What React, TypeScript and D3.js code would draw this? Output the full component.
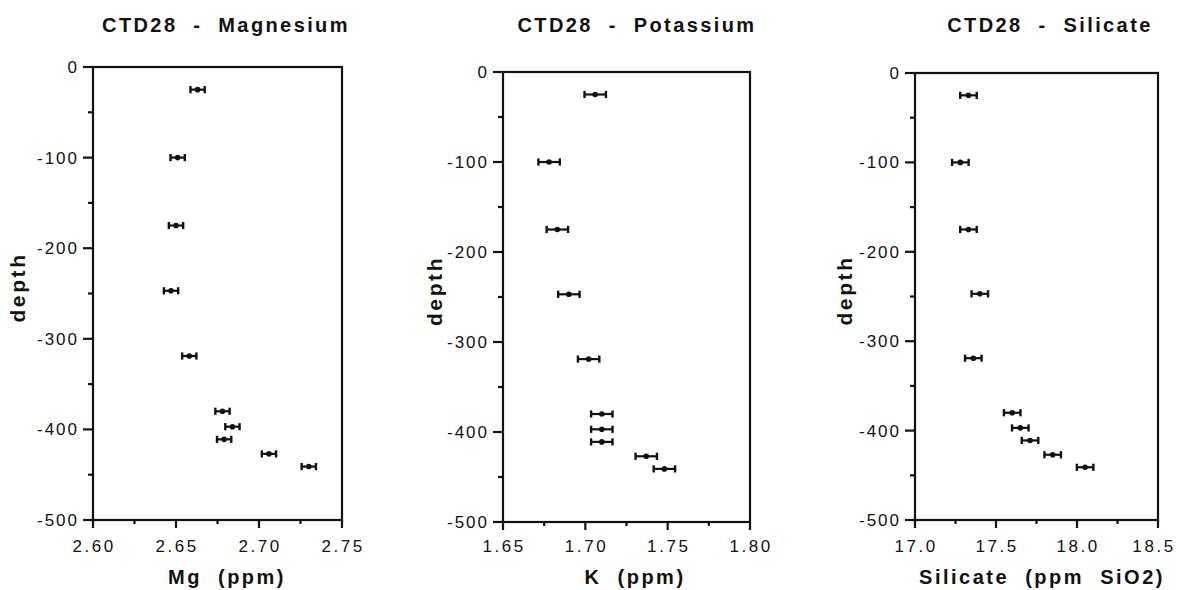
import React from "react";
import * as d3 from "d3";

const depths = [-25, -100, -175, -247, -319, -380, -397, -411, -427, -441];
const mgValues = [2.663, 2.651, 2.65, 2.647, 2.658, 2.678, 2.684, 2.679, 2.706, 2.73];
const kValues = [1.706, 1.678, 1.683, 1.69, 1.702, 1.71, 1.71, 1.71, 1.737, 1.748];
const siValues = [17.33, 17.28, 17.33, 17.4, 17.36, 17.6, 17.65, 17.71, 17.85, 18.05];
const mgErr = 0.0043;
const kErr = 0.0065;
const siErr = 0.051;

const mgTicks = [2.6, 2.65, 2.7, 2.75];
const kTicks = [1.65, 1.7, 1.75, 1.8];
const siTicks = [17.0, 17.5, 18.0, 18.5];
const depthTicks = [0, -100, -200, -300, -400, -500];
const depthMinor = [-50, -150, -250, -350, -450];

const titles = ["CTD28  -  Magnesium", "CTD28  -  Potassium", "CTD28  -  Silicate"];
const xLabels = ["Mg  (ppm)", "K  (ppm)", "Silicate  (ppm  SiO2)"];

type Panel = {
  values: number[];
  err: number;
  ticks: number[];
  fmt: string;
  title: string;
  xLabel: string;
  frame: { l: number; r: number; t: number; b: number };
  titleX: number;
  xLabelX: number;
  depthX: number;
};

const panels: Panel[] = [
  { values: mgValues, err: mgErr, ticks: mgTicks, fmt: ".2f", title: titles[0], xLabel: xLabels[0],
    frame: { l: 93, r: 342, t: 67, b: 520 }, titleX: 226, xLabelX: 227, depthX: 18 },
  { values: kValues, err: kErr, ticks: kTicks, fmt: ".2f", title: titles[1], xLabel: xLabels[1],
    frame: { l: 503, r: 750, t: 72, b: 522 }, titleX: 637, xLabelX: 635, depthX: 435 },
  { values: siValues, err: siErr, ticks: siTicks, fmt: ".1f", title: titles[2], xLabel: xLabels[2],
    frame: { l: 915, r: 1158, t: 73, b: 520 }, titleX: 1050, xLabelX: 1042, depthX: 845 },
];

const FONT = "'Liberation Sans', Arial, Helvetica, sans-serif";
const INK = "#111";
const W = 1180;

function PanelView({ p }: { p: Panel }) {
  const { l, r, t, b } = p.frame;
  const x = d3.scaleLinear().domain([p.ticks[0], p.ticks[p.ticks.length - 1]]).range([l, r]);
  const y = d3.scaleLinear().domain([0, -500]).range([t, b]);
  const f = d3.format(p.fmt);
  const minorX = p.ticks.slice(0, -1).map((v, i) => (v + p.ticks[i + 1]) / 2);
  const cap = 3.6;
  const tickFs = 17;
  const tickLs = 2.6;
  return (
    <g>
      <text x={p.titleX} y={32} textAnchor="middle" fontFamily={FONT} fontWeight="bold" fontSize={20}
        letterSpacing={2.4} fill={INK} style={{ whiteSpace: "pre" }}>{p.title}</text>
      <rect x={l} y={t} width={r - l} height={b - t} fill="none" stroke={INK} strokeWidth={2.2} />
      {depthTicks.map((d) => (
        <g key={"yt" + d}>
          <line x1={l - 10} x2={l} y1={y(d)} y2={y(d)} stroke={INK} strokeWidth={2.2} />
          <text x={l - 14} y={y(d)} dy="0.35em" textAnchor="end" fontFamily={FONT} fontSize={17}
            letterSpacing={2} fill={INK}>{d}</text>
        </g>
      ))}
      {depthMinor.map((d) => (
        <line key={"ym" + d} x1={l - 5} x2={l} y1={y(d)} y2={y(d)} stroke={INK} strokeWidth={2.2} />
      ))}
      {p.ticks.map((v) => {
        const label = f(v);
        const estW = label.length * (tickFs * 0.52 + tickLs);
        const cx = Math.min(x(v) + 1.2, W - 3 - estW / 2);
        return (
          <g key={"xt" + v}>
            <line x1={x(v)} x2={x(v)} y1={b} y2={b + 8} stroke={INK} strokeWidth={2.2} />
            <text x={cx} y={552} textAnchor="middle" fontFamily={FONT} fontSize={tickFs}
              letterSpacing={tickLs} fill={INK}>{label}</text>
          </g>
        );
      })}
      {minorX.map((v) => (
        <line key={"xm" + v} x1={x(v)} x2={x(v)} y1={b} y2={b + 4} stroke={INK} strokeWidth={2.2} />
      ))}
      <text x={p.xLabelX} y={584} textAnchor="middle" fontFamily={FONT} fontWeight="bold" fontSize={20}
        letterSpacing={2.5} fill={INK} style={{ whiteSpace: "pre" }}>{p.xLabel}</text>
      <text transform={`translate(${p.depthX},${(t + b) / 2 - 6}) rotate(-90)`} dy="0.35em" textAnchor="middle"
        fontFamily={FONT} fontWeight="bold" fontSize={21} letterSpacing={2.6} fill={INK}>depth</text>
      {p.values.map((v, i) => {
        const cy = y(depths[i]);
        const x0 = x(v - p.err);
        const x1 = x(v + p.err);
        return (
          <g key={"pt" + i}>
            <line x1={x0} x2={x1} y1={cy} y2={cy} stroke={INK} strokeWidth={2.2} />
            <line x1={x0} x2={x0} y1={cy - cap} y2={cy + cap} stroke={INK} strokeWidth={2.4} />
            <line x1={x1} x2={x1} y1={cy - cap} y2={cy + cap} stroke={INK} strokeWidth={2.4} />
            <circle cx={x(v)} cy={cy} r={2.8} fill={INK} />
          </g>
        );
      })}
    </g>
  );
}

export default function App() {
  return (
    <svg width={W} height={590} style={{ position: "absolute", left: 0, top: 0, background: "#fff" }}>
      <rect x={0} y={0} width={W} height={590} fill="#fff" />
      {panels.map((p, i) => (
        <PanelView key={i} p={p} />
      ))}
    </svg>
  );
}
